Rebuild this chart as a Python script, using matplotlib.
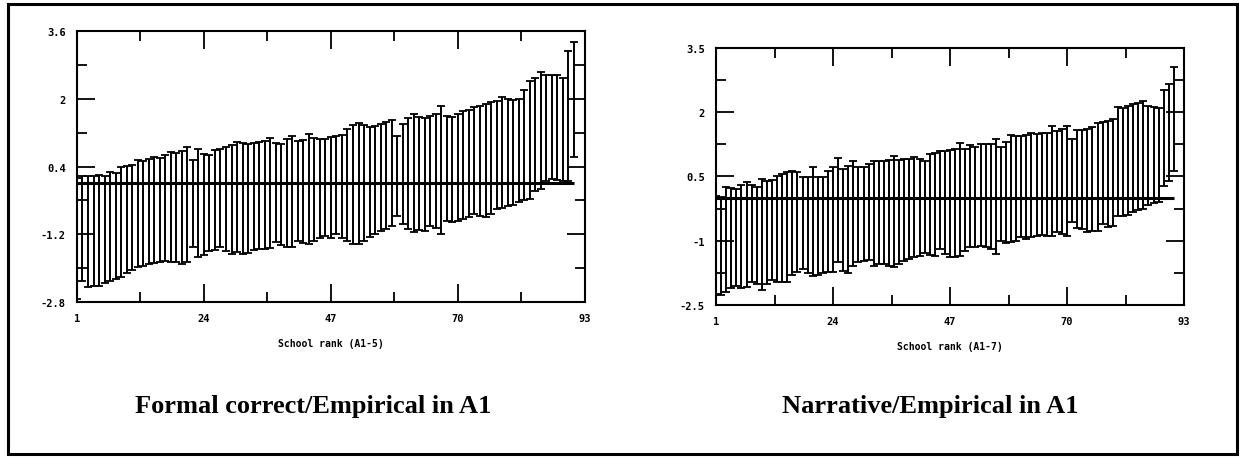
import numpy as np
import matplotlib.pyplot as plt
from matplotlib.patches import Rectangle

# school ranks (same for both panels)
ranks = np.arange(1, 92)

# Formal correct / Empirical (A1-5): interval limits per school
a5_upper = [0.12, 0.18, 0.17, 0.17, 0.20, 0.17, 0.28, 0.25, 0.40, 0.42,
            0.44, 0.55, 0.52, 0.58, 0.62, 0.60, 0.68, 0.74, 0.72, 0.76,
            0.85, 0.55, 0.82, 0.70, 0.68, 0.80, 0.82, 0.85, 0.90, 0.97,
            0.95, 0.93, 0.95, 0.97, 1.00, 1.07, 0.95, 0.93, 1.05, 1.12,
            1.00, 1.03, 1.16, 1.08, 1.06, 1.05, 1.10, 1.12, 1.15, 1.28,
            1.38, 1.42, 1.38, 1.33, 1.35, 1.40, 1.45, 1.50, 1.12, 1.40,
            1.55, 1.64, 1.58, 1.55, 1.60, 1.65, 1.83, 1.60, 1.57, 1.65,
            1.71, 1.73, 1.80, 1.83, 1.88, 1.92, 1.95, 2.05, 2.00, 1.98,
            2.00, 2.20, 2.42, 2.50, 2.63, 2.56, 2.55, 2.55, 2.50, 3.13,
            3.34]
a5_lower = [-2.74, -2.31, -2.45, -2.42, -2.43, -2.35, -2.30, -2.26, -2.20, -2.12,
            -2.05, -1.98, -1.95, -1.90, -1.88, -1.86, -1.84, -1.86, -1.86, -1.91,
            -1.86, -1.51, -1.74, -1.70, -1.60, -1.58, -1.51, -1.60, -1.67, -1.62,
            -1.67, -1.65, -1.58, -1.55, -1.55, -1.52, -1.39, -1.45, -1.50, -1.50,
            -1.36, -1.40, -1.43, -1.35, -1.30, -1.25, -1.28, -1.20, -1.30, -1.36,
            -1.43, -1.43, -1.35, -1.27, -1.20, -1.13, -1.08, -1.01, -0.77, -0.96,
            -1.08, -1.15, -1.10, -1.12, -1.01, -1.05, -1.20, -0.89, -0.90, -0.88,
            -0.85, -0.80, -0.73, -0.76, -0.80, -0.72, -0.61, -0.58, -0.54, -0.50,
            -0.45, -0.40, -0.37, -0.18, -0.14, 0.05, 0.10, 0.08, 0.05, 0.05,
            0.62]

# Narrative / Empirical (A1-7)
a7_upper = [0.05, 0.03, 0.25, 0.22, 0.20, 0.30, 0.38, 0.30, 0.25, 0.44,
            0.40, 0.42, 0.51, 0.55, 0.60, 0.62, 0.60, 0.49, 0.49, 0.72,
            0.49, 0.49, 0.63, 0.72, 0.93, 0.67, 0.75, 0.86, 0.72, 0.72,
            0.80, 0.86, 0.85, 0.86, 0.88, 0.98, 0.88, 0.90, 0.92, 0.95,
            0.90, 0.86, 1.02, 1.05, 1.09, 1.10, 1.12, 1.15, 1.28, 1.14,
            1.23, 1.20, 1.26, 1.25, 1.26, 1.37, 1.19, 1.30, 1.47, 1.45,
            1.44, 1.48, 1.51, 1.50, 1.51, 1.52, 1.68, 1.56, 1.62, 1.68,
            1.37, 1.58, 1.58, 1.60, 1.65, 1.75, 1.78, 1.79, 1.84, 2.12,
            2.10, 2.14, 2.19, 2.22, 2.26, 2.14, 2.12, 2.11, 2.52, 2.66,
            3.05]
a7_lower = [-2.25, -2.27, -2.20, -2.10, -2.06, -2.10, -2.08, -1.97, -2.00, -2.15,
            -2.00, -1.92, -1.97, -1.97, -1.97, -1.80, -1.73, -1.66, -1.75, -1.83,
            -1.80, -1.76, -1.74, -1.73, -1.50, -1.70, -1.76, -1.60, -1.50, -1.48,
            -1.45, -1.59, -1.55, -1.55, -1.58, -1.62, -1.55, -1.48, -1.42, -1.38,
            -1.35, -1.29, -1.33, -1.36, -1.20, -1.30, -1.38, -1.37, -1.36, -1.25,
            -1.15, -1.14, -1.13, -1.15, -1.20, -1.31, -1.01, -1.05, -1.03, -1.00,
            -0.92, -0.95, -0.92, -0.90, -0.87, -0.89, -0.89, -0.80, -0.85, -0.89,
            -0.57, -0.70, -0.73, -0.80, -0.78, -0.78, -0.61, -0.68, -0.66, -0.43,
            -0.43, -0.40, -0.34, -0.29, -0.25, -0.17, -0.12, -0.10, 0.28, 0.39,
            0.63]

x_ticks = [1, 24, 47, 70, 93]
a5_yticks = [-2.8, -1.2, 0.4, 2, 3.6]
a7_yticks = [-2.5, -1, 0.5, 2, 3.5]


def caterpillar(ax, lower, upper, yticks, xlabel):
    lo = np.array(lower)
    hi = np.array(upper)
    mid = (lo + hi) / 2
    ax.errorbar(ranks, mid, yerr=(hi - lo) / 2, fmt="none", ecolor="black",
                elinewidth=1.4, capsize=2.6, capthick=1.3)
    ax.hlines(0, ranks[0], ranks[-1], color="black", lw=2.2)

    ax.set_xlim(1, 93)
    ax.set_ylim(yticks[0], yticks[-1])
    ax.set_xticks(x_ticks)
    ax.set_xticks([(a + b) / 2 for a, b in zip(x_ticks[:-1], x_ticks[1:])], minor=True)
    ax.set_yticks(yticks)
    ax.set_yticklabels(["%g" % t for t in yticks])
    ax.set_yticks([(a + b) / 2 for a, b in zip(yticks[:-1], yticks[1:])], minor=True)
    ax.tick_params(which="both", direction="in", top=True, right=True,
                   width=1.3, labelsize=7.5)
    ax.tick_params(which="major", length=13, pad=8)
    ax.tick_params(which="minor", length=7)
    for lab in ax.get_xticklabels() + ax.get_yticklabels():
        lab.set_fontweight("bold")
        lab.set_family("DejaVu Sans Mono")
    for sp in ax.spines.values():
        sp.set_linewidth(1.5)
    ax.set_xlabel(xlabel, fontsize=7, fontweight="bold", family="DejaVu Sans Mono",
                  labelpad=11)


fig = plt.figure(figsize=(12.41, 4.60), dpi=100)

ax1 = fig.add_axes([0.0620, 0.3413, 0.4093, 0.5891])
caterpillar(ax1, a5_lower, a5_upper, a5_yticks, "School rank (A1-5)")

ax2 = fig.add_axes([0.5770, 0.3348, 0.3771, 0.5587])
caterpillar(ax2, a7_lower, a7_upper, a7_yticks, "School rank (A1-7)")

fig.text(313 / 1241, 1 - 407 / 460, "Formal correct/Empirical in A1",
         ha="center", va="center", fontsize=19, fontweight="bold",
         family="Liberation Serif")
fig.text(930 / 1241, 1 - 407 / 460, "Narrative/Empirical in A1",
         ha="center", va="center", fontsize=19, fontweight="bold",
         family="Liberation Serif")

# outer frame
fig.patches.append(Rectangle((8 / 1241, 5 / 460), 1229 / 1241, 450 / 460,
                             transform=fig.transFigure, fill=False,
                             edgecolor="black", lw=2.2))

fig.savefig("out.png", dpi=100)
